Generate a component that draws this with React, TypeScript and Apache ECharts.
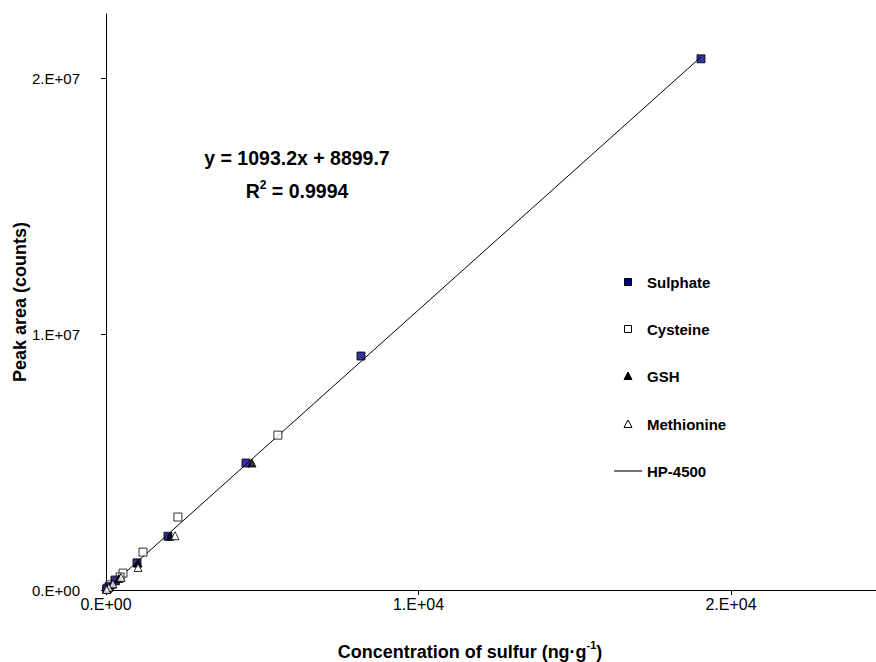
import React, { useEffect, useRef } from "react";
import * as echarts from "echarts";

const sulphate: [number, number][] = [
  [19040, 20750000], [8160, 9140000], [4480, 4960000], [1984, 2100000],
  [992, 1060000], [300, 360000], [100, 130000], [20, 30000],
];
const cysteine: [number, number][] = [
  [5500, 6050000], [2300, 2850000], [1184, 1480000], [544, 660000],
  [450, 510000], [288, 390000], [128, 200000], [40, 70000],
];
const gsh: [number, number][] = [
  [4672, 4960000], [2050, 2100000], [1024, 1050000], [410, 450000],
  [200, 230000], [40, 50000],
];
const methionine: [number, number][] = [
  [2208, 2120000], [1024, 880000], [480, 490000], [220, 240000],
  [90, 100000], [20, 20000],
];
const hp4500: [number, number][] = [
  [0, 8900], [19040, 20823000],
];
const xTicks = [0, 10000, 20000];
const yTicks = [0, 10000000, 20000000];
const legendNames = ["Sulphate", "Cysteine", "GSH", "Methionine", "HP-4500"];
const equation = "y = 1093.2x + 8899.7";
const r2 = "0.9994";

const FONT = "Liberation Sans, Arial, sans-serif";
const NARROW = "Liberation Sans Narrow, Arial Narrow, Liberation Sans, sans-serif";

function fmt(v: number): string {
  if (v === 0) return "0.E+00";
  const e = Math.floor(Math.log10(v) + 1e-9);
  const m = Math.round(v / Math.pow(10, e));
  return `${m}.E+${String(e).padStart(2, "0")}`;
}

export default function App() {
  const ref = useRef<HTMLDivElement>(null);
  useEffect(() => {
    if (!ref.current) return;
    const chart = echarts.init(ref.current, null, { renderer: "svg" });
    const legendRows = [282, 329, 376, 424, 471];
    const legendMarkers: any[] = [
      { type: "rect", shape: { x: 624.5, y: legendRows[0] - 3.5, width: 7, height: 7 }, style: { fill: "#000080", stroke: "#000", lineWidth: 1 } },
      { type: "rect", shape: { x: 624.5, y: legendRows[1] - 3.5, width: 7, height: 7 }, style: { fill: "#fff", stroke: "#000", lineWidth: 1 } },
      { type: "polygon", shape: { points: [[628, legendRows[2] - 4], [632, legendRows[2] + 3.5], [624, legendRows[2] + 3.5]] }, style: { fill: "#000", stroke: "#000", lineWidth: 1 } },
      { type: "polygon", shape: { points: [[628, legendRows[3] - 4], [632, legendRows[3] + 3.5], [624, legendRows[3] + 3.5]] }, style: { fill: "#fff", stroke: "#000", lineWidth: 1 } },
      { type: "line", shape: { x1: 614, y1: legendRows[4], x2: 642, y2: legendRows[4] }, style: { stroke: "#444", lineWidth: 1.5 } },
    ];
    const legendTexts = legendNames.map((n, i) => ({
      type: "text",
      x: 647,
      y: legendRows[i],
      style: { text: n, font: `bold 15px ${FONT}`, fill: "#000", align: "left", verticalAlign: "middle" },
    }));
    chart.setOption({
      animation: false,
      backgroundColor: "#fff",
      grid: { left: 106, top: 14, right: 0, bottom: 72 },
      xAxis: {
        type: "value",
        min: 0,
        max: 24640,
        splitLine: { show: false },
        axisLine: { show: true, onZero: false, lineStyle: { color: "#000", width: 1 } },
        axisTick: { show: true, length: 5, customValues: xTicks, lineStyle: { color: "#000" } },
        axisLabel: { customValues: xTicks, formatter: (v: number) => fmt(v), color: "#000", fontFamily: NARROW, fontSize: 16, margin: 6 },
      },
      yAxis: {
        type: "value",
        min: 0,
        max: 22500000,
        splitLine: { show: false },
        axisLine: { show: true, onZero: false, lineStyle: { color: "#000", width: 1 } },
        axisTick: { show: true, length: 5, customValues: yTicks, lineStyle: { color: "#000" } },
        axisLabel: { customValues: yTicks, formatter: (v: number) => fmt(v), color: "#000", fontFamily: FONT, fontSize: 15, margin: 26 },
      },
      series: [
        {
          name: "HP-4500",
          type: "line",
          data: hp4500,
          showSymbol: false,
          symbol: "none",
          lineStyle: { color: "#000", width: 1 },
          z: 1,
        },
        {
          name: "Sulphate",
          type: "scatter",
          data: sulphate,
          symbol: "rect",
          symbolSize: 8,
          clip: false,
          itemStyle: { color: "#000080", borderColor: "#000", borderWidth: 1 },
          z: 3,
        },
        {
          name: "Cysteine",
          type: "scatter",
          data: cysteine,
          symbol: "rect",
          symbolSize: 8,
          clip: false,
          itemStyle: { color: "#fff", borderColor: "#000", borderWidth: 1 },
          z: 2,
        },
        {
          name: "GSH",
          type: "scatter",
          data: gsh,
          symbol: "triangle",
          symbolSize: 8,
          clip: false,
          itemStyle: { color: "#000", borderColor: "#000", borderWidth: 1 },
          z: 4,
        },
        {
          name: "Methionine",
          type: "scatter",
          data: methionine,
          symbol: "triangle",
          symbolSize: 8,
          clip: false,
          itemStyle: { color: "#fff", borderColor: "#000", borderWidth: 1 },
          z: 5,
        },
      ],
      graphic: [
        ...legendMarkers,
        ...legendTexts,
        {
          type: "text",
          x: 297,
          y: 158,
          style: { text: equation, font: `bold 19.5px ${FONT}`, fill: "#000", align: "center", verticalAlign: "middle" },
        },
        {
          type: "text",
          x: 297,
          y: 190,
          style: {
            text: `{a|R}{s|2}{a| = ${r2}}`,
            align: "center",
            verticalAlign: "middle",
            rich: {
              a: { font: `bold 19.5px ${FONT}`, fill: "#000", verticalAlign: "bottom", lineHeight: 22 },
              s: { font: `bold 12px ${FONT}`, fill: "#000", verticalAlign: "top", lineHeight: 22 },
            },
          },
        },
        {
          type: "text",
          x: 470,
          y: 650,
          style: {
            text: `{a|Concentration of sulfur (ng·g}{s|-1}{a|)}`,
            align: "center",
            verticalAlign: "middle",
            rich: {
              a: { font: `bold 18px ${FONT}`, fill: "#000", verticalAlign: "bottom", lineHeight: 22 },
              s: { font: `bold 11px ${FONT}`, fill: "#000", verticalAlign: "top", lineHeight: 22 },
            },
          },
        },
        {
          type: "text",
          x: 20,
          y: 302,
          rotation: Math.PI / 2,
          style: { text: "Peak area (counts)", font: `bold 18px ${FONT}`, fill: "#000", align: "center", verticalAlign: "middle" },
        },
      ],
    });
    return () => chart.dispose();
  }, []);
  return <div ref={ref} style={{ position: "fixed", left: 0, top: 0, width: 876, height: 662 }} />;
}
